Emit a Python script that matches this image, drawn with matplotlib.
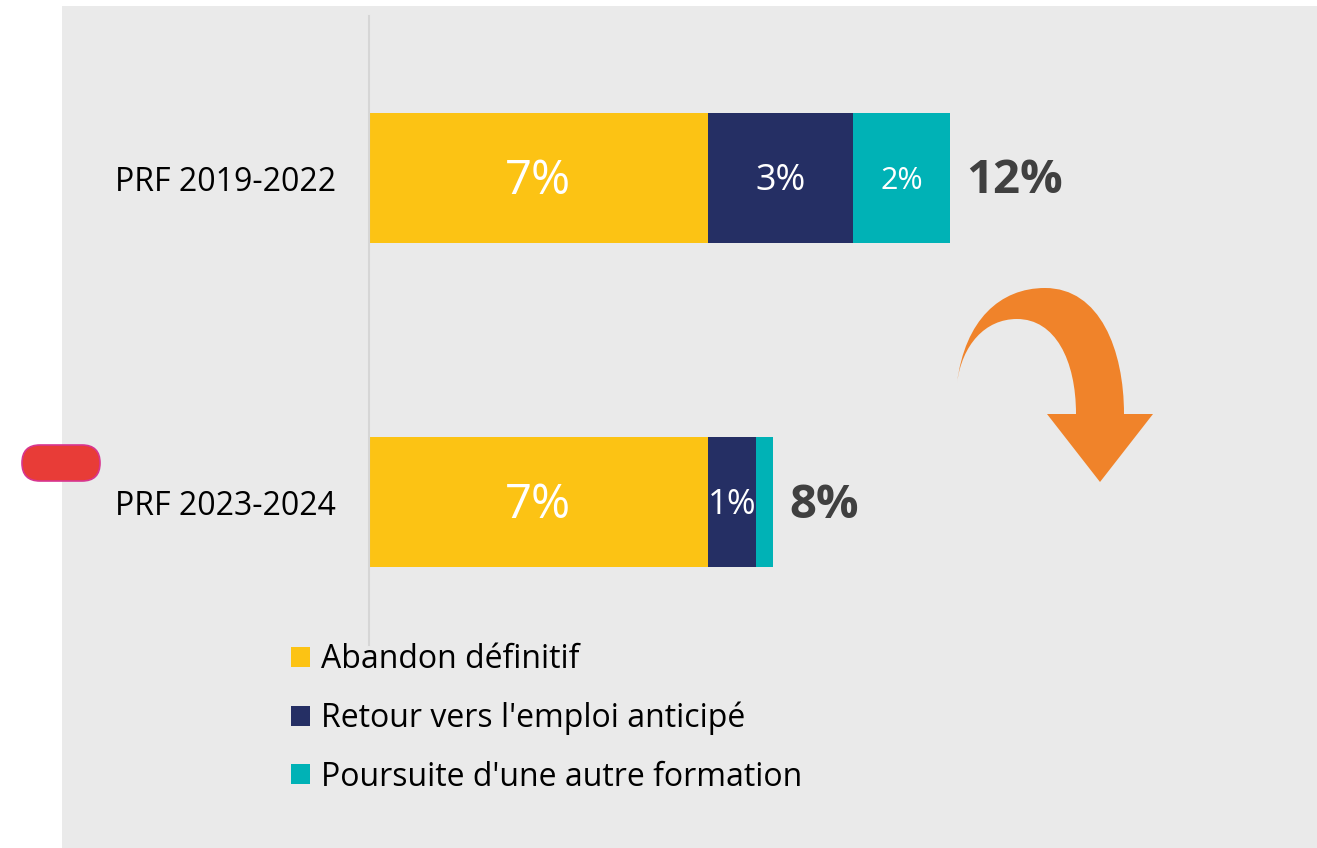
import numpy as np
import matplotlib.pyplot as plt
from matplotlib.patches import Rectangle, FancyBboxPatch, PathPatch, Patch
from matplotlib.path import Path

# données
categories = ["PRF 2019-2022", "PRF 2023-2024"]
series = ["Abandon définitif", "Retour vers l'emploi anticipé", "Poursuite d'une autre formation"]
abandon = [7.0, 7.0]
retour = [3.0, 1.0]
poursuite = [2.0, 0.35]
seg_labels = [["7%", "3%", "2%"], ["7%", "1%", ""]]
totals = ["12%", "8%"]

colors = ["#FCC314", "#252F64", "#00B2B6"]
seg_fs = [[34, 26, 22], [34, 25, 22]]

plt.rcParams["font.family"] = ["Open Sans", "DejaVu Sans"]

W, H = 1317, 848
fig = plt.figure(figsize=(W / 100, H / 100), dpi=100)
fig.patch.set_facecolor("white")

def fx(x):
    return x / W

def fy(y):
    return 1 - y / H

# fond gris
fig.patches.append(Rectangle((fx(62), 0), fx(W - 62), fy(6), transform=fig.transFigure,
                             facecolor="#EAEAEA", edgecolor="none", zorder=-5))

# pastille rouge
pill = FancyBboxPatch((22 + 18, H - 481 + 18), 78 - 36, 0,
                      boxstyle="round,pad=18,rounding_size=18",
                      transform=None, facecolor="#E83C37", edgecolor="#D8358F",
                      linewidth=1.2, zorder=-4)
fig.patches.append(pill)

ax = fig.add_axes([fx(369), fy(645), 16 * 48.4 / W, (645 - 16) / H])
ax.set_facecolor("none")
ax.set_zorder(2)
ax.set_xlim(0, 16)
ax.set_ylim(1.44, -0.5)

y = np.arange(len(categories))
left = np.zeros(len(categories))
for vals, col in zip([abandon, retour, poursuite], colors):
    vals = np.array(vals)
    ax.barh(y, vals, left=left, height=0.4, color=col, edgecolor="none")
    left = left + vals

lefts = np.zeros(len(categories))
for j, vals in enumerate([abandon, retour, poursuite]):
    for i in range(len(categories)):
        lab = seg_labels[i][j]
        if lab:
            ax.annotate(lab, (lefts[i] + vals[i] / 2, y[i]), xytext=(0, -2),
                        textcoords="offset points", ha="center", va="center",
                        color="white", fontsize=seg_fs[i][j])
    lefts = lefts + np.array(vals)

for i in range(len(categories)):
    ax.annotate(totals[i], (left[i], y[i]), xytext=(12, -2), textcoords="offset points",
                ha="left", va="center", fontsize=34, fontweight="bold", color="#404040")

ax.set_yticks(y)
ax.set_yticklabels(categories, fontsize=23, color="black")
ax.tick_params(axis="y", length=0, pad=24)
ax.set_xticks([])
for s in ["top", "right", "bottom"]:
    ax.spines[s].set_visible(False)
ax.spines["left"].set_color("#D6D6D6")
ax.spines["left"].set_linewidth(1.5)

# flèche orange
verts = [(957, 383), (965, 320), (1000, 288), (1045, 288),
         (1100, 288), (1124, 350), (1124, 414),
         (1153, 414), (1100, 482), (1047, 414), (1076, 414),
         (1076, 360), (1055, 319), (1017, 319),
         (985, 319), (962, 345), (957, 383), (957, 383)]
codes = [Path.MOVETO, Path.CURVE4, Path.CURVE4, Path.CURVE4,
         Path.CURVE4, Path.CURVE4, Path.CURVE4,
         Path.LINETO, Path.LINETO, Path.LINETO, Path.LINETO,
         Path.CURVE4, Path.CURVE4, Path.CURVE4,
         Path.CURVE4, Path.CURVE4, Path.CURVE4, Path.CLOSEPOLY]
arrow = Path([(fx(a), fy(b)) for a, b in verts], codes)
fig.patches.append(PathPatch(arrow, transform=fig.transFigure, facecolor="#F0832A",
                             edgecolor="none", zorder=3))

handles = [Patch(facecolor=c, edgecolor="none") for c in colors]
leg = fig.legend(handles, series, loc="upper left", bbox_to_anchor=(fx(291), fy(643)),
                 frameon=False, fontsize=23, handlelength=0.6, handleheight=0.6,
                 handletextpad=0.35, labelspacing=0.8, borderpad=0, borderaxespad=0)
leg.set_zorder(4)

fig.savefig("out.png", dpi=100)
